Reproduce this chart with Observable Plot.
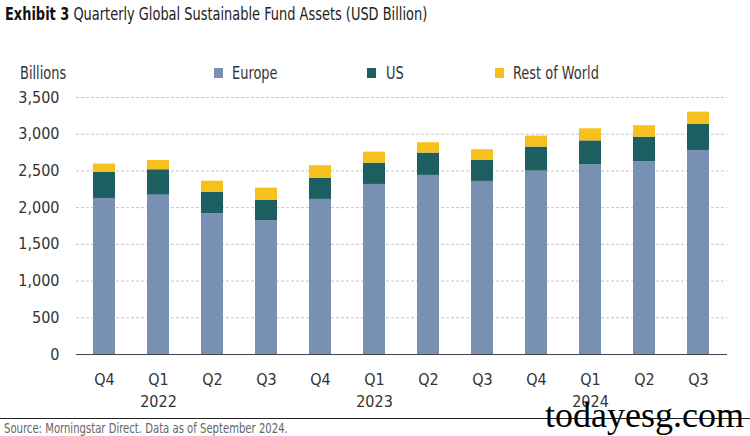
<!DOCTYPE html>
<html>
<head>
<meta charset="utf-8">
<script src="https://cdn.jsdelivr.net/npm/d3@7"></script>
<script src="https://cdn.jsdelivr.net/npm/@observablehq/plot@0.6"></script>
<style>
  html, body { margin: 0; padding: 0; background: #fff; }
  body { width: 750px; height: 436px; overflow: hidden; }
  #wrap { position: relative; width: 750px; height: 436px; font-family: "DejaVu Sans Condensed", "Liberation Sans Narrow", "Roboto", sans-serif; color: #333; }
  .abs { position: absolute; white-space: nowrap; transform-origin: 0 50%; }
  .narrow { transform: scaleX(0.8); }
  #title { left: 5px; top: 2px; font-size: 18px; color: #222; line-height: 24px; }
  #title b { font-weight: bold; color: #111; }
  #ylabel { left: 20px; top: 62px; font-size: 18px; line-height: 22px; }
  .leg { top: 62px; font-size: 18px; line-height: 22px; }
  .sw { position: absolute; top: 68px; width: 9px; height: 10px; }
  #rule { left: 0; top: 418px; width: 750px; height: 0; border-top: 1px solid #222; }
  #source { left: 4px; top: 419px; font-size: 14px; line-height: 18px; color: #666; }
  #wm { left: 545px; top: 394px; font-family: "Liberation Serif", "DejaVu Serif", serif; font-size: 36px; line-height: 42px; color: #000; }
</style>
</head>
<body>
<div id="wrap">
  <div id="chart"></div>
</div>
<script>
// ---- data ----
const periods = ["2021 Q4","2022 Q1","2022 Q2","2022 Q3","2022 Q4","2023 Q1","2023 Q2","2023 Q3","2023 Q4","2024 Q1","2024 Q2","2024 Q3"];
const quarterLabels = ["Q4","Q1","Q2","Q3","Q4","Q1","Q2","Q3","Q4","Q1","Q2","Q3"];
const yearLabels = ["","2022","","","","2023","","","","2024","",""];
const europe =      [2125, 2170, 1917, 1821, 2112, 2316, 2439, 2357, 2498, 2584, 2625, 2779];
const us =          [ 355,  346,  290,  277,  286,  290,  304,  286,  327,  325,  335,  359];
const restOfWorld = [ 113,  127,  154,  168,  173,  150,  141,  146,  150,  165,  156,  163];
const seriesNames = ["Europe", "US", "Rest of World"];
const seriesColors = ["#7990b5", "#1d5e60", "#f6c11c"];
const yTicks = [0, 500, 1000, 1500, 2000, 2500, 3000, 3500];
const titleBold = "Exhibit 3";
const titleText = "Quarterly Global Sustainable Fund Assets (USD Billion)";
const yAxisLabel = "Billions";
const sourceText = "Source: Morningstar Direct. Data as of September 2024.";
const watermark = "todayesg.com";

// ---- build table ----
const seriesValues = [europe, us, restOfWorld];
const rows = [];
periods.forEach((p, i) => {
  seriesNames.forEach((s, j) => rows.push({period: p, series: s, value: seriesValues[j][i]}));
});
const labelRows = periods.map((p, i) => ({period: p, q: quarterLabels[i], year: yearLabels[i]}));

const font = '"DejaVu Sans Condensed", "Liberation Sans Narrow", "Roboto", sans-serif';

const chart = Plot.plot({
  width: 750,
  height: 436,
  marginTop: 97,
  marginBottom: 82,
  marginLeft: 76,
  marginRight: 23,
  style: {fontFamily: font, fontSize: "16px", color: "#333", background: "transparent"},
  x: {type: "band", domain: periods, paddingInner: 0.59, paddingOuter: 0.295, label: null},
  y: {domain: [0, 3500], label: null},
  color: {domain: seriesNames, range: seriesColors},
  marks: [
    Plot.gridY(yTicks.filter(d => d > 0), {stroke: "#c4c4c4", strokeOpacity: 1, strokeDasharray: "3,2"}),
    Plot.barY(rows, {x: "period", y: "value", fill: "series", order: seriesNames}),
    Plot.ruleY([0], {stroke: "#444", strokeWidth: 1.2}),
    Plot.axisY(yTicks, {tickSize: 0, tickPadding: 17, tickFormat: d3.format(","), label: null, fontSize: 16}),
    Plot.axisX({tickSize: 0, tickPadding: 19, tickFormat: d => quarterLabels[periods.indexOf(d)], label: null, fontSize: 16}),
    Plot.text(labelRows, {x: "period", text: "year", frameAnchor: "bottom", lineAnchor: "top", dy: 41, fontSize: 16, fill: "#333"})
  ]
});
document.getElementById("chart").appendChild(chart);

// ---- overlays: title, legend, source ----
const wrap = document.getElementById("wrap");
function addDiv(id, cls, html, style) {
  const d = document.createElement("div");
  if (id) d.id = id;
  d.className = cls;
  d.innerHTML = html;
  if (style) Object.assign(d.style, style);
  wrap.appendChild(d);
  return d;
}
addDiv("title", "abs narrow", "<b>" + titleBold + "</b> " + titleText);
addDiv("ylabel", "abs narrow", yAxisLabel);
const legendSwatchX = [214, 367, 495];
const legendTextX = [232, 386, 513];
seriesNames.forEach((s, j) => {
  addDiv(null, "sw", "", {left: legendSwatchX[j] + "px", background: seriesColors[j]});
  addDiv(null, "abs leg narrow", s, {left: legendTextX[j] + "px"});
});
addDiv("rule", "abs", "");
addDiv("source", "abs narrow", sourceText);
addDiv("wm", "abs", watermark);
</script>
</body>
</html>
